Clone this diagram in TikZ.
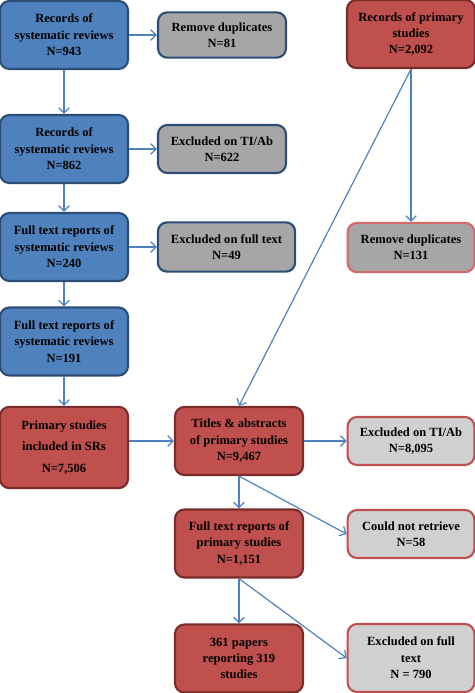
\documentclass[tikz,border=0pt]{standalone}
\usepackage{fontspec}
\setmainfont{Liberation Serif}
\usetikzlibrary{positioning,arrows.meta}

\definecolor{srblue}{HTML}{4F81BD}
\definecolor{srblueline}{HTML}{2C4D75}
\definecolor{psred}{HTML}{C0504D}
\definecolor{psredline}{HTML}{7A2C2A}
\definecolor{psredlight}{HTML}{D46A67}
\definecolor{exgrey}{HTML}{A6A6A6}
\definecolor{exgreylight}{HTML}{D0D0D0}
\definecolor{flow}{HTML}{4F81BD}

\tikzset{
  box/.style={rounded corners=7pt, line width=1.6pt, align=center, inner sep=2pt,
    font=\fontsize{9.4}{12.3}\selectfont\bfseries},
  srbox/.style={box, fill=srblue, draw=srblueline, minimum width=96pt, minimum height=51pt},
  psbox/.style={box, fill=psred, draw=psredline, minimum width=96pt, minimum height=51pt},
  exsr/.style={box, fill=exgrey, draw=srblueline, minimum width=96pt, minimum height=34pt},
  exps/.style={box, fill=exgreylight, draw=psred, minimum width=95pt, minimum height=36pt},
  flowline/.style={draw=flow, line width=0.9pt, -{Straight Barb[length=4pt,width=8pt,line width=0.9pt]}}
}

\begin{document}
\begin{tikzpicture}[x=0.75pt,y=-0.75pt]
  \useasboundingbox (0,0) rectangle (475,693);

  % systematic reviews
  \node[srbox] (sr1) at (64,35) {Records of\\systematic reviews\\N=943};
  \node[srbox] (sr2) at (64,149) {Records of\\systematic reviews\\N=862};
  \node[srbox] (sr3) at (64,247) {Full text reports of\\systematic reviews\\N=240};
  \node[srbox] (sr4) at (64,341.5) {Full text reports of\\systematic reviews\\N=191};

  \node[exsr] (dup1) at (222,35) {Remove duplicates\\N=81};
  \node[exsr, minimum height=36pt] (tiab1) at (222,149) {Excluded on TI/Ab\\N=622};
  \node[exsr, minimum width=103pt, minimum height=37pt] (full1) at (226.5,247) {Excluded on full text\\N=49};

  % primary studies
  \node[psbox, minimum height=61pt, font=\fontsize{9.4}{16}\selectfont\bfseries] (incl) at (64,447.5) {Primary studies\\included in SRs\\N=7,506};
  \node[psbox] (prim) at (411,34) {Records of primary\\studies\\N=2,092};
  \node[box, fill=exgrey, draw=psredlight, minimum width=95pt, minimum height=37pt] (dup2) at (411,247.5) {Remove duplicates\\N=131};

  \node[psbox] (titles) at (239,441) {Titles \& abstracts\\of primary studies\\N=9,467};
  \node[psbox] (ftprim) at (239,543.5) {Full text reports of\\primary studies\\N=1,151};
  \node[psbox] (papers) at (239,658.5) {361 papers\\reporting 319\\studies};

  \node[exps] (tiab2) at (411,441) {Excluded on TI/Ab\\N=8,095};
  \node[exps] (retr) at (411,534) {Could not retrieve\\N=58};
  \node[exps, minimum height=51pt] (full2) at (411,658) {Excluded on full\\text\\N = 790};

  % connectors
  \draw[flowline] (sr1) -- (sr2);
  \draw[flowline] (sr2) -- (sr3);
  \draw[flowline] (sr3) -- (sr4);
  \draw[flowline] (sr4) -- (incl);
  \draw[flowline] (sr1) -- (dup1);
  \draw[flowline] (sr2) -- (tiab1);
  \draw[flowline] (sr3) -- (full1);
  \draw[flowline] (incl.east |- titles.west) -- (titles.west);
  \draw[flowline] (prim.south) -- (dup2.north);
  \draw[flowline] (prim.south) -- (titles.north);
  \draw[flowline] (titles) -- (tiab2);
  \draw[flowline] (titles.south) -- (ftprim.north);
  \draw[flowline] (titles.south) -- (retr.west);
  \draw[flowline] (ftprim.south) -- (papers.north);
  \draw[flowline] (ftprim.south) -- (full2.west);
\end{tikzpicture}
\end{document}
